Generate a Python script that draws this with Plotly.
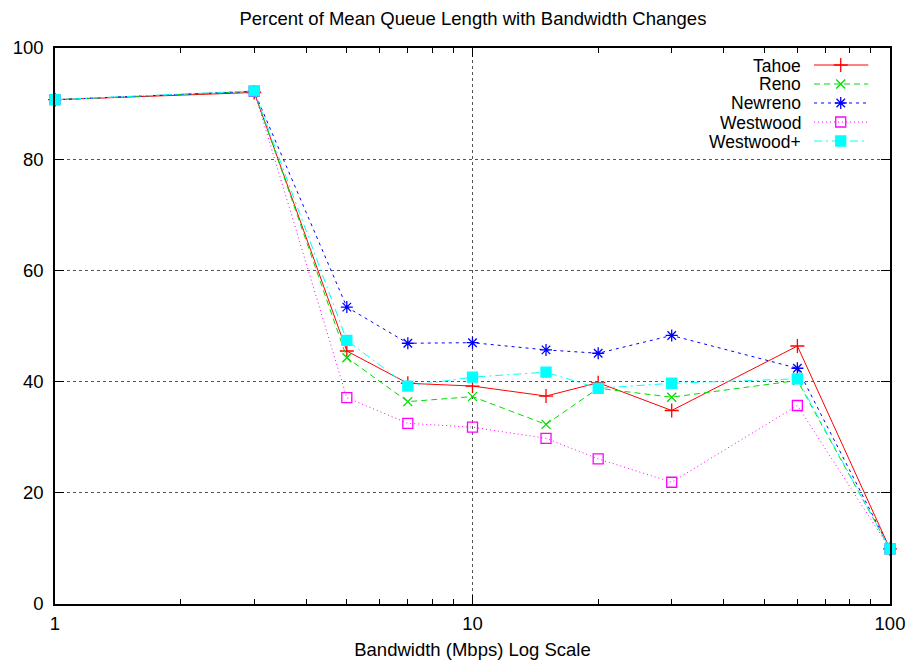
import plotly.graph_objects as go

# Bandwidth steps (Mbps)
bandwidth = [1, 3, 5, 7, 10, 15, 20, 30, 60, 100]

# Mean queue length as percent of buffer, per TCP variant
tahoe = [90.7, 92.0, 45.5, 39.7, 39.2, 37.4, 39.8, 34.8, 46.4, 9.9]
reno = [90.7, 92.2, 44.3, 36.4, 37.3, 32.3, 38.8, 37.2, 40.2, 9.9]
newreno = [90.7, 92.2, 53.4, 46.9, 47.0, 45.7, 45.1, 48.3, 42.4, 9.9]
westwood = [90.7, 92.2, 37.1, 32.5, 31.8, 29.8, 26.1, 21.9, 35.7, 9.9]
westwood_plus = [90.7, 92.3, 47.4, 39.2, 40.8, 41.7, 38.8, 39.7, 40.5, 9.9]

series_names = ["Tahoe", "Reno", "Newreno", "Westwood", "Westwood+"]
series_values = [tahoe, reno, newreno, westwood, westwood_plus]

x_major = [1, 10, 100]
x_major_text = ["1", "10", "100"]
x_minor = [2, 3, 4, 5, 6, 7, 8, 9, 20, 30, 40, 50, 60, 70, 80, 90]
y_ticks = [0, 20, 40, 60, 80, 100]

styles = [
    dict(color="#ff0000", dash="solid", symbol="cross-thin", size=10),
    dict(color="#00dd00", dash="6px,4px", symbol="x-thin", size=9),
    dict(color="#0000ff", dash="3px,4px", symbol="asterisk", size=10),
    dict(color="#ff00ff", dash="1px,3px", symbol="square-open", size=10),
    dict(color="#00ffff", dash="8px,4px,2px,4px", symbol="square", size=10),
]

FONT = "Liberation Sans, Arial, Helvetica, sans-serif"
FS = 18.5
KEY_FS = 17.5

fig = go.Figure()

for name, vals, st in zip(series_names, series_values, styles):
    fig.add_trace(go.Scatter(
        x=bandwidth, y=vals, name=name, mode="lines+markers",
        line=dict(color=st["color"], width=1, dash=st["dash"]),
        marker=dict(symbol=st["symbol"], size=st["size"], color=st["color"],
                    line=dict(color=st["color"], width=1.3)),
        showlegend=False, cliponaxis=False,
    ))

# Key drawn gnuplot-style: label on the left, sample on the right
key_rows = [0.9694, 0.9353, 0.9011, 0.8669, 0.8327]
for name, st, ry in zip(series_names, styles, key_rows):
    fig.add_trace(go.Scatter(
        x=[0.909, 0.974], y=[ry, ry], xaxis="x2", yaxis="y2", mode="lines",
        line=dict(color=st["color"], width=1, dash=st["dash"]),
        showlegend=False, hoverinfo="skip",
    ))
    fig.add_trace(go.Scatter(
        x=[0.941], y=[ry], xaxis="x2", yaxis="y2", mode="markers",
        marker=dict(symbol=st["symbol"], size=st["size"], color=st["color"],
                    line=dict(color=st["color"], width=1.3)),
        showlegend=False, hoverinfo="skip",
    ))
    fig.add_annotation(
        x=0.8946, y=ry, xref="paper", yref="paper", text=name,
        showarrow=False, xanchor="right", yanchor="middle",
        height=17, borderpad=0, valign="middle",
        font=dict(family=FONT, size=KEY_FS, color="#000"),
    )

fig.update_layout(
    width=913, height=660,
    margin=dict(l=55, r=23, t=48, b=56, autoexpand=False),
    paper_bgcolor="white", plot_bgcolor="white",
    font=dict(family=FONT, size=FS, color="#000"),
    title=dict(text="Percent of Mean Queue Length with Bandwidth Changes",
               x=0.518, xanchor="center", y=0.972, yanchor="middle",
               automargin=False,
               font=dict(family=FONT, size=FS, color="#000")),
    xaxis=dict(
        type="log", range=[0, 2], automargin=False,
        tickvals=x_major, ticktext=x_major_text,
        ticks="inside", ticklen=9, tickcolor="#000", tickwidth=1,
        minor=dict(tickvals=x_minor, ticks="inside", ticklen=5,
                   tickcolor="#000", tickwidth=1, showgrid=False),
        showline=True, linecolor="#000", linewidth=1.5, mirror="allticks",
        showgrid=True, gridcolor="#555", griddash="dot", gridwidth=1,
        zeroline=False, ticklabelstandoff=2,
        title=dict(text="Bandwidth (Mbps) Log Scale", standoff=13,
                   font=dict(family=FONT, size=FS)),
        tickfont=dict(family=FONT, size=FS),
    ),
    yaxis=dict(
        range=[0, 100], tickvals=y_ticks, automargin=False,
        ticks="inside", ticklen=9, tickcolor="#000", tickwidth=1,
        showline=True, linecolor="#000", linewidth=1.5, mirror="allticks",
        showgrid=True, gridcolor="#555", griddash="dot", gridwidth=1,
        zeroline=False, ticklabelstandoff=6,
        tickfont=dict(family=FONT, size=FS),
    ),
    xaxis2=dict(range=[0, 1], overlaying="x", visible=False, fixedrange=True),
    yaxis2=dict(range=[0, 1], overlaying="y", visible=False, fixedrange=True),
)

fig.write_html("out.html")
